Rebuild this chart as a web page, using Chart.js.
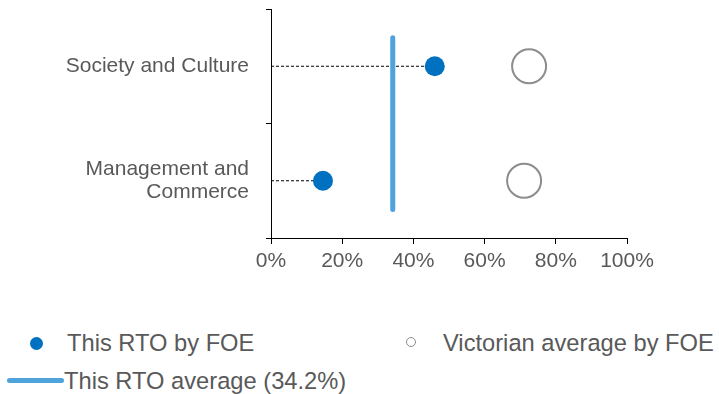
<!DOCTYPE html>
<html>
<head>
<meta charset="utf-8">
<script src="https://cdn.jsdelivr.net/npm/chart.js@4"></script>
<style>
  html, body { margin: 0; padding: 0; background: #fff; }
  #wrap { position: relative; width: 719px; height: 394px; font-family: 'Liberation Sans', Arial, sans-serif; color: #595959; }
  #chartBox { position: absolute; left: 0; top: 0; width: 719px; height: 300px; }
  .lg { position: absolute; }
  .txt { font-size: 23.7px; line-height: 28px; white-space: nowrap; }
</style>
</head>
<body>
<div id="wrap">
  <div id="chartBox"><canvas id="c"></canvas></div>
  <div class="lg" style="left:29.5px;top:336.5px;width:13px;height:13px;border-radius:50%;background:#0070C0;"></div>
  <div class="lg txt" style="left:67px;top:329px;">This RTO by FOE</div>
  <div class="lg" style="left:405.5px;top:337px;width:8px;height:8px;border-radius:50%;border:1.5px solid #8c8c8c;background:#fff;"></div>
  <div class="lg txt" style="left:443px;top:329px;">Victorian average by FOE</div>
  <div class="lg" style="left:7px;top:378px;width:57px;height:5px;border-radius:2.5px;background:#4FA3DB;"></div>
  <div class="lg txt" style="left:64px;top:367px;">This RTO average (34.2%)</div>
</div>
<script>
// ---- data ----
const categories = ['Society and Culture', 'Management and Commerce'];
const tickLabels = [['Society and Culture'], ['Management and', 'Commerce']];
const rtoValues = [46.0, 14.6];          // This RTO by FOE
const vicValues = [72.5, 71.1];          // Victorian average by FOE
const rtoAverage = 34.2;                 // This RTO average
const xTicks = [0, 20, 40, 60, 80, 100];

const FONT = "'Liberation Sans', Arial, sans-serif";

const rtoPoints = rtoValues.map((v, i) => ({ x: v, y: i }));
const vicPoints = vicValues.map((v, i) => ({ x: v, y: i }));
const avgLine = [{ x: rtoAverage, y: -0.25 }, { x: rtoAverage, y: categories.length - 0.75 }];

const connectorSets = rtoValues.map((v, i) => ({
  type: 'line',
  label: 'connector ' + categories[i],
  data: [{ x: 0, y: i }, { x: v, y: i }],
  borderColor: '#000',
  borderWidth: 1,
  borderDash: [3, 2],
  pointRadius: 0,
  showLine: true,
  fill: false,
  clip: false
}));

new Chart(document.getElementById('c'), {
  type: 'scatter',
  data: {
    datasets: [
      {
        label: 'This RTO by FOE',
        data: rtoPoints,
        pointRadius: 10,
        pointHoverRadius: 10,
        backgroundColor: '#0070C0',
        borderColor: '#0070C0',
        borderWidth: 0,
        clip: false
      },
      {
        label: 'Victorian average by FOE',
        data: vicPoints,
        pointRadius: 17,
        pointHoverRadius: 17,
        backgroundColor: '#ffffff',
        borderColor: '#8c8c8c',
        borderWidth: 2,
        clip: false
      },
      {
        type: 'line',
        label: 'This RTO average (34.2%)',
        data: avgLine,
        borderColor: '#4FA3DB',
        borderWidth: 5,
        borderCapStyle: 'round',
        pointRadius: 0,
        showLine: true,
        fill: false,
        clip: false
      },
      ...connectorSets
    ]
  },
  options: {
    responsive: true,
    maintainAspectRatio: false,
    animation: false,
    events: [],
    layout: { autoPadding: false, padding: { top: 9, right: 92, left: 0, bottom: 0 } },
    plugins: { legend: { display: false }, tooltip: { enabled: false } },
    scales: {
      x: {
        type: 'linear',
        min: 0,
        max: 100,
        afterBuildTicks: (s) => { s.ticks = xTicks.map(v => ({ value: v })); },
        afterFit: (s) => { s.height = 62; },
        border: { color: '#000', width: 1 },
        grid: { drawOnChartArea: false, drawTicks: true, tickLength: 6, color: '#000' },
        ticks: {
          color: '#595959',
          padding: 5,
          font: { family: FONT, size: 21 },
          maxRotation: 0,
          callback: (v) => v + '%'
        }
      },
      y: {
        type: 'linear',
        min: -0.5,
        max: categories.length - 0.5,
        reverse: true,
        afterBuildTicks: (s) => { s.ticks = categories.map((c, i) => ({ value: i })); },
        afterFit: (s) => { s.width = 271; s.paddingTop = 0; s.paddingBottom = 0; },
        border: { color: '#000', width: 1 },
        grid: { offset: true, drawOnChartArea: false, drawTicks: true, tickLength: 5, color: '#000' },
        ticks: {
          color: '#595959',
          padding: 17,
          font: { family: FONT, size: 21, lineHeight: 1.1 },
          autoSkip: false,
          callback: (v) => tickLabels[v]
        }
      }
    }
  }
});
</script>
</body>
</html>
